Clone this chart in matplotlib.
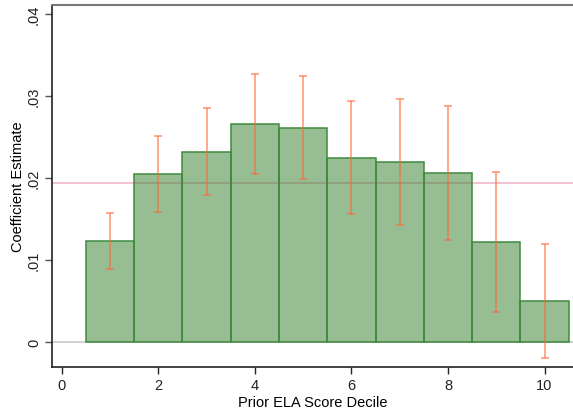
import matplotlib
matplotlib.use("Agg")
import matplotlib.pyplot as plt
import numpy as np

plt.rcParams['font.family'] = ['Liberation Sans', 'DejaVu Sans']

deciles = [1, 2, 3, 4, 5, 6, 7, 8, 9, 10]
coef = [0.01235, 0.0205, 0.02313, 0.02655, 0.02606, 0.02244, 0.02191, 0.02057, 0.01216, 0.00496]
ci_low = [0.00894, 0.01589, 0.01789, 0.02052, 0.01988, 0.01561, 0.01427, 0.01244, 0.00366, -0.00191]
ci_high = [0.01577, 0.02516, 0.0285, 0.03272, 0.0324, 0.02935, 0.02967, 0.02874, 0.0207, 0.01195]
mean_line = 0.01943
xticks = [0, 2, 4, 6, 8, 10]
yticks = [0, 0.01, 0.02, 0.03, 0.04]
ytick_labels = ['0', '.01', '.02', '.03', '.04']

fig = plt.figure(figsize=(5.73, 4.10), dpi=100)
ax = fig.add_axes([52/573, (410-367.7)/410, 1 - 52/573, (367.7-6)/410])

ax.axhline(0, color='#c8c8c8', lw=1.2, zorder=1)
ax.axhline(mean_line, color='#f2b8c8', lw=1.2, zorder=1)

ax.bar(deciles, coef, width=1.0, facecolor=(49/255, 127/255, 41/255, 0.5),
       edgecolor='#3f8a3f', linewidth=1.1, zorder=2)

c = np.array(coef)
yerr = [c - np.array(ci_low), np.array(ci_high) - c]
ax.errorbar(deciles, coef, yerr=yerr, fmt='none', ecolor=(1.0, 0.4, 0.2, 0.6),
            elinewidth=1.3, capsize=3, capthick=1.3, zorder=3)

ax.set_xlim(-0.2, 10.59)
ax.set_ylim(-0.003, 0.0411)
ax.set_xticks(xticks)
ax.set_xticklabels([str(t) for t in xticks])
ax.set_yticks(yticks)
ax.set_yticklabels(ytick_labels, rotation=90, va='center')

ax.spines['right'].set_visible(False)
ax.spines['top'].set_color('#777777')
ax.spines['top'].set_linewidth(1.5)
ax.spines['left'].set_color('#222222')
ax.spines['bottom'].set_color('#222222')
ax.spines['left'].set_linewidth(1.2)
ax.spines['bottom'].set_linewidth(1.2)

ax.tick_params(axis='both', labelsize=10.5, length=5, width=1, colors='#222222')
ax.tick_params(axis='y', color='#555555', pad=3)
ax.tick_params(axis='x', pad=3)

ax.set_xlabel('Prior ELA Score Decile', fontsize=10.5, labelpad=2)
ax.set_ylabel('Coefficient Estimate', fontsize=10.5, labelpad=1)

fig.savefig('out.png', dpi=100)
